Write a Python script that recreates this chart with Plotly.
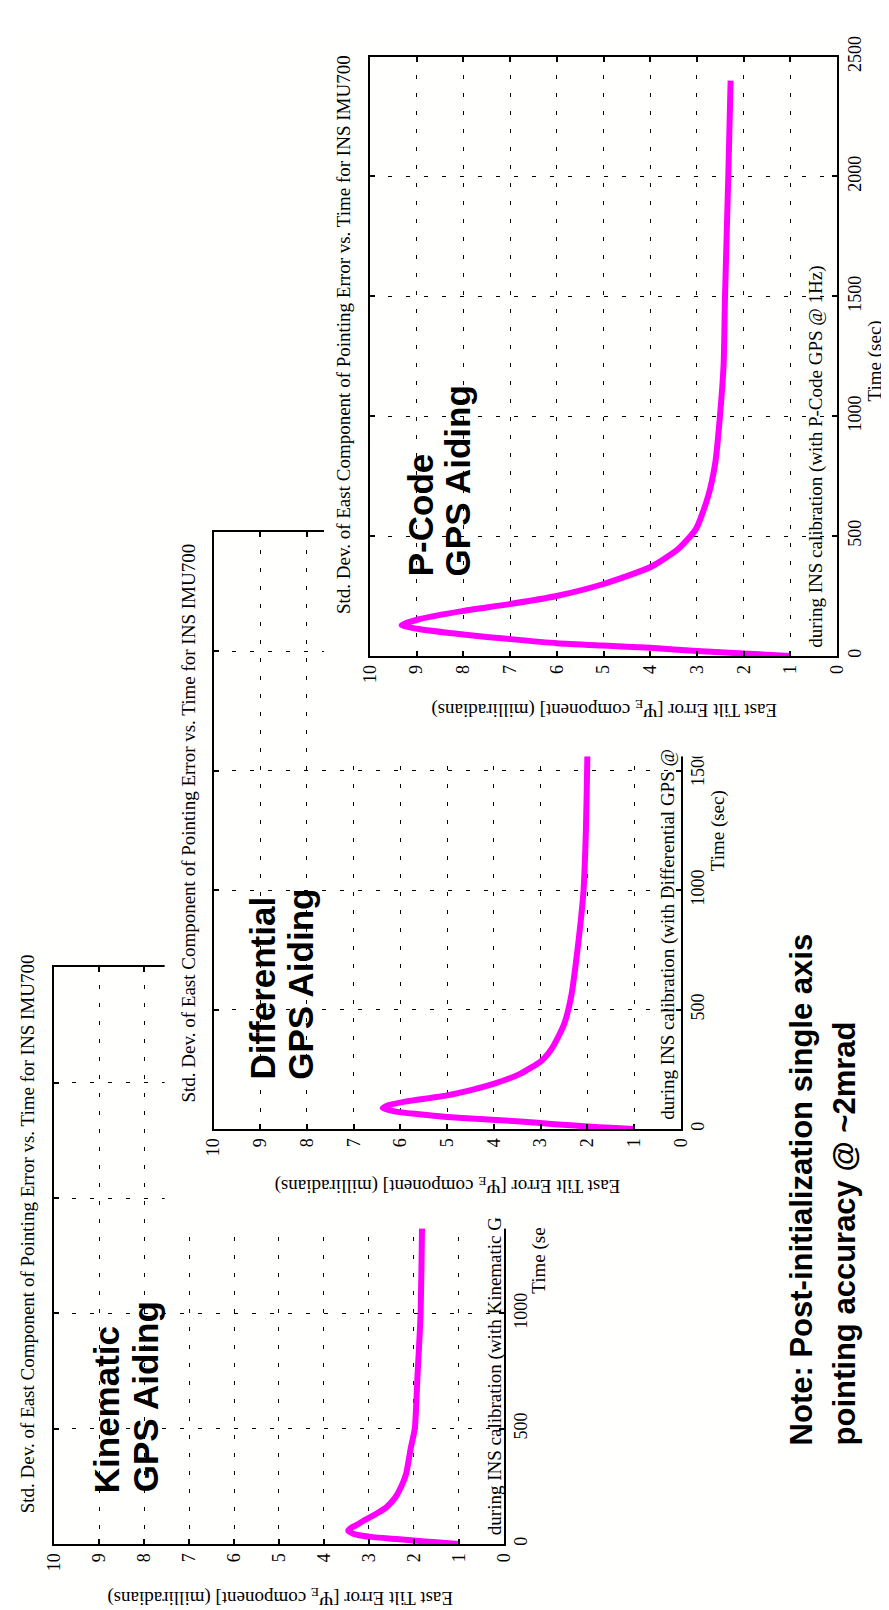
import plotly.graph_objects as go

W, H = 889, 1610

# ---------------- data (time in s, east tilt error in mrad) ----------------
kin_time = [0, 8, 15, 22, 30, 36, 45, 58, 70, 85, 101, 130, 158, 200, 230, 300, 415, 500, 728, 1000, 1363, 1600]
kin_err = [1.0, 1.5, 2.0, 2.4, 2.9, 3.15, 3.35, 3.46, 3.4, 3.25, 3.12, 2.85, 2.62, 2.42, 2.33, 2.18, 2.07, 1.98, 1.92, 1.85, 1.82, 1.80]

dif_time = [0, 5, 11, 20, 32, 42, 52, 62, 73, 87, 100, 115, 141, 165, 190, 230, 286, 340, 437, 550, 767, 1000, 1250, 1550, 1900, 2400]
dif_err = [1.0, 1.5, 2.0, 2.7, 3.43, 4.3, 5.07, 5.6, 6.11, 6.38, 6.25, 5.9, 5.0, 4.45, 3.99, 3.45, 2.98, 2.75, 2.5, 2.35, 2.2, 2.08, 2.03, 2.0, 1.98, 1.96]

pc_time = [0, 10, 20, 34, 43, 53, 70, 89, 112, 129, 153, 188, 215, 249, 300, 373, 448, 530, 667, 804, 996, 1215, 1500, 2000, 2400]
pc_err = [1.0, 2.0, 3.0, 4.0, 5.0, 6.0, 7.0, 8.0, 8.95, 9.32, 8.95, 8.0, 7.05, 6.03, 5.0, 3.97, 3.39, 3.02, 2.76, 2.61, 2.51, 2.43, 2.40, 2.33, 2.28]

err_ticks = [0, 1, 2, 3, 4, 5, 6, 7, 8, 9, 10]
time_ticks = [0, 500, 1000, 1500, 2000, 2500]

title_text = "Std. Dev. of East Component of Pointing Error vs. Time for INS IMU700"
ylabel_text = "East Tilt Error [\u03a8<sub>E</sub> component] (milliradians)"
time_label = "Time (sec)"

SERIF = "Liberation Serif, Times New Roman, serif"
SANS = "Liberation Sans, Arial, Helvetica, sans-serif"
MAGENTA = "#ff00ff"


def xd(a, b):
    return [a / W, b / W]


def yd(top, bottom):
    return [1 - bottom / H, 1 - top / H]


def blank_axes(n, xdom, ydom):
    common = dict(showline=False, showgrid=False, zeroline=False, showticklabels=False,
                  ticks="", fixedrange=True)
    sfx = "" if n == 1 else str(n)
    return {
        f"xaxis{sfx}": dict(domain=xd(*xdom), anchor=f"y{sfx}", range=[0, 1], **common),
        f"yaxis{sfx}": dict(domain=yd(*ydom), anchor=f"x{sfx}", range=[0, 1], **common),
    }


def data_axes(n, xdom, ydom):
    common = dict(showline=True, linecolor="black", linewidth=2, mirror="ticks",
                  ticks="inside", ticklen=5, tickwidth=1.5, tickcolor="black",
                  showgrid=True, gridcolor="black", gridwidth=1.4, griddash="4px,14px",
                  zeroline=False, fixedrange=True, tickangle=-90,
                  tickfont=dict(family=SERIF, size=18, color="black"))
    return {
        f"xaxis{n}": dict(domain=xd(*xdom), anchor=f"y{n}", range=[10, 0],
                          tickvals=err_ticks, ticktext=[str(v) for v in err_ticks],
                          side="bottom", **common),
        f"yaxis{n}": dict(domain=yd(*ydom), anchor=f"x{n}", range=[0, 2500],
                          tickvals=time_ticks, ticktext=[str(v) for v in time_ticks],
                          side="right", **common),
    }


fig = go.Figure()

# subplot order: base, kinematic, cover, differential, cover, p-code
layout_axes = {}
layout_axes.update(blank_axes(1, (0, W), (0, H)))
layout_axes.update(data_axes(2, (37, 497), (952, 1537)))
layout_axes.update(blank_axes(3, (150, 700), (900, 1217)))
layout_axes.update(data_axes(4, (200, 678), (510, 1116)))
layout_axes.update(blank_axes(5, (313, W), (0, 738)))
layout_axes.update(data_axes(6, (360, 838), (28, 636)))

for n in (1, 3, 5):
    sfx = "" if n == 1 else str(n)
    fig.add_trace(go.Scatter(x=[], y=[], xaxis=f"x{sfx}", yaxis=f"y{sfx}",
                             showlegend=False, hoverinfo="skip"))

for n, t, e in ((2, kin_time, kin_err), (4, dif_time, dif_err), (6, pc_time, pc_err)):
    fig.add_trace(go.Scatter(x=e, y=t, xaxis=f"x{n}", yaxis=f"y{n}", mode="lines",
                             line=dict(color=MAGENTA, width=6, shape="spline", smoothing=0.6),
                             showlegend=False, hoverinfo="skip"))


def ann(text, px, py, angle, size, family, xanchor="center", yanchor="middle", align="center"):
    return dict(text=text, x=px / W, y=1 - py / H, xref="paper", yref="paper",
                showarrow=False, textangle=angle, xanchor=xanchor, yanchor=yanchor,
                align=align, font=dict(family=family, size=size, color="black"))


annotations = [
    # plot titles
    ann(title_text, 10, 1222, -90, 19, SERIF),
    ann(title_text, 174, 806, -90, 19, SERIF),
    ann(title_text, 333, 310, -90, 19, SERIF),
    # y labels (upside down)
    ann(ylabel_text, 268, 1590, 180, 19, SERIF),
    ann(ylabel_text, 439, 1173, 180, 19, SERIF),
    ann(ylabel_text, 600, 690, 180, 19, SERIF),
    # time labels
    ann("Time (se", 533, 1285, -90, 19, SERIF, yanchor="bottom"),
    ann(time_label, 716, 813, -90, 19, SERIF),
    ann(time_label, 877, 337, -90, 19, SERIF),
    # calibration notes inside plots
    ann("during INS calibration (with Kinematic G", 488, 1530, -90, 19, SERIF, yanchor="bottom"),
    ann("during INS calibration (with Differential GPS @", 665, 1109, -90, 19, SERIF, yanchor="bottom"),
    ann("during INS calibration (with P-Code GPS @ 1Hz)", 816, 630, -90, 19, SERIF, yanchor="bottom"),
    # big panel labels
    ann("<b>Kinematic</b>", 90, 1487, -90, 35, SANS, yanchor="bottom"),
    ann("<b>GPS Aiding</b>", 130, 1487, -90, 35, SANS, yanchor="bottom"),
    ann("<b>Differential</b>", 250, 1068, -90, 35, SANS, yanchor="bottom"),
    ann("<b>GPS Aiding</b>", 289, 1068, -90, 35, SANS, yanchor="bottom"),
    ann("<b>P-Code</b>", 412, 557, -90, 35, SANS, yanchor="bottom"),
    ann("<b>GPS Aiding</b>", 450, 557, -90, 35, SANS, yanchor="bottom"),
    # note
    ann("<b>Note: Post-initialization single axis</b>", 801, 1439, -90, 31, SANS, yanchor="bottom"),
    ann("<b>pointing accuracy @ ~2mrad</b>", 845, 1439, -90, 31, SANS, yanchor="bottom"),
]

fig.update_layout(
    width=W, height=H, autosize=False,
    margin=dict(l=0, r=0, t=0, b=0, pad=0),
    paper_bgcolor="#ffffff", plot_bgcolor="#fffffe",
    showlegend=False, hovermode=False,
    annotations=annotations,
    **layout_axes,
)

fig.write_html("out.html")
